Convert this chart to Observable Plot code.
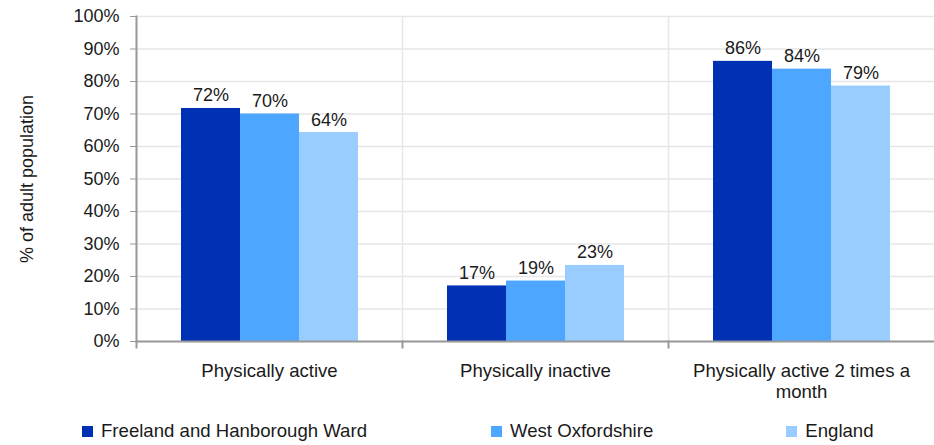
<!DOCTYPE html>
<html>
<head>
<meta charset="utf-8">
<script src="https://cdn.jsdelivr.net/npm/d3@7"></script>
<script src="https://cdn.jsdelivr.net/npm/@observablehq/plot@0.6"></script>
<style>
  html, body { margin: 0; padding: 0; background: #fff; }
  #chart { width: 934px; font-family: "Liberation Sans", Arial, sans-serif; color: #1a1a1a; }
  .legend { display: flex; justify-content: flex-start; height: 40px; align-items: center;
            font-size: 18.6px; padding-left: 82px; margin-top: 6px; }
  .legend .item { display: flex; align-items: center; white-space: nowrap; }
  .legend .item:nth-child(2) { margin-left: 124px; }
  .legend .item:nth-child(3) { margin-left: 133px; }
  .legend .sw { width: 11px; height: 11px; margin-right: 8px; display: inline-block; }
</style>
</head>
<body>
<div id="chart"></div>
<script>
const groups = ["Physically active", "Physically inactive", "Physically active 2 times a month"];
const groupTickLabels = ["Physically active", "Physically inactive", "Physically active 2 times a\nmonth"];
const series = ["Freeland and Hanborough Ward", "West Oxfordshire", "England"];
const freeland = [71.7, 17.1, 86.2];
const westOxfordshire = [70.0, 18.6, 83.8];
const england = [64.3, 23.4, 78.6];
const colors = ["#0030b3", "#4da6ff", "#99ccff"];
const yTicks = [0, 10, 20, 30, 40, 50, 60, 70, 80, 90, 100];

const seriesValues = [freeland, westOxfordshire, england];
const data = groups.flatMap((g, i) => series.map((s, j) => ({group: g, series: s, value: seriesValues[j][i]})));

const plot = Plot.plot({
  width: 934,
  height: 405,
  marginLeft: 136,
  marginRight: 0,
  marginTop: 16,
  marginBottom: 64,
  style: {fontFamily: "'Liberation Sans', Arial, sans-serif", fontSize: "18px", color: "#1a1a1a", background: "#fff"},
  fx: {domain: groups, paddingInner: 0, paddingOuter: 0, label: null},
  x: {domain: series, paddingInner: 0, paddingOuter: 0.72, axis: null},
  y: {domain: [0, 100]},
  color: {domain: series, range: colors},
  marks: [
    Plot.gridY(yTicks, {stroke: "#e6e6e6", strokeOpacity: 1, strokeWidth: 1.5}),
    Plot.frame({anchor: "left", stroke: "#e6e6e6", strokeWidth: 1.5}),
    Plot.frame({anchor: "left", stroke: "#999", strokeWidth: 2, facetAnchor: "left"}),
    Plot.frame({anchor: "left", stroke: "#999", strokeWidth: 2, insetTop: 325, insetBottom: -6}),
    Plot.barY(data, {fx: "group", x: "series", y: "value", fill: "series"}),
    Plot.text(data, {fx: "group", x: "series", y: "value", text: d => Math.round(d.value) + "%", lineAnchor: "bottom", dy: -7, fill: "#1a1a1a"}),
    Plot.ruleY([0], {stroke: "#999", strokeWidth: 2}),
    Plot.axisY({ticks: yTicks, tickFormat: d => d + "%", tickSize: 6, tickPadding: 11, stroke: "#999",
      label: "% of adult population", labelAnchor: "center", labelOffset: 116, labelArrow: "none"}),
    Plot.axisFx({anchor: "bottom", tickFormat: d => groupTickLabels[groups.indexOf(d)], tickSize: 0, tickPadding: 20, lineHeight: 1.15, fontSize: 18.6, label: null})
  ]
});

const chart = document.getElementById("chart");
chart.appendChild(plot);

const legend = d3.select(chart).append("div").attr("class", "legend");
series.forEach((s, i) => {
  const item = legend.append("div").attr("class", "item");
  item.append("span").attr("class", "sw").style("background", colors[i]);
  item.append("span").text(s);
});
</script>
</body>
</html>
